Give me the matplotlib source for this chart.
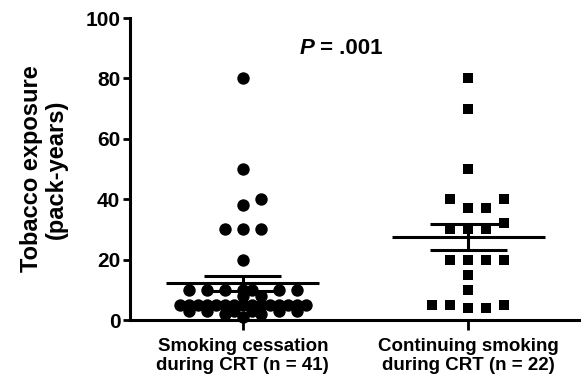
import numpy as np
import matplotlib
matplotlib.use("Agg")
import matplotlib.pyplot as plt

plt.rcParams['font.family'] = ['Liberation Sans', 'DejaVu Sans']
plt.rcParams['font.weight'] = 'bold'

# data (pack-years)
groups = ["Smoking cessation\nduring CRT (n = 41)",
          "Continuing smoking\nduring CRT (n = 22)"]
cessation = [80, 50, 40, 38, 30, 30, 30, 20,
             10, 10, 10, 10, 10, 10, 10, 8, 8,
             5, 5, 5, 5, 5, 5, 5, 5, 5, 5, 5, 5, 5, 5, 5,
             3, 3, 3, 3, 3, 3, 2, 2, 1]
continuing = [80, 70, 50, 40, 40, 37, 37, 32, 30, 30, 30,
              20, 20, 20, 20, 15, 10, 5, 5, 5, 4, 4]
yticks = [0, 20, 40, 60, 80, 100]


def swarm(values, xscale, yscale, step=9.0, half=63.0, rx=17.0, ry=11.0):
    # Prism-like spread in pixel space: nearest free slot to the centre,
    # squeezed (overlapping) when the row is full. Returns offsets in data units.
    values = np.asarray(values, dtype=float)
    order = np.argsort(values, kind="stable")
    n = int(half // step)
    slots = [0.0]
    for k in range(1, n + 1):
        slots += [k * step, -k * step]
    placed = []
    offs = np.zeros(len(values))
    for i in order:
        y = values[i] * yscale
        best, best_d = None, -1.0
        for x in slots:
            if placed:
                d = min(np.hypot((x - px) / rx, (y - py) / ry) for px, py in placed)
            else:
                d = 99.0
            if d >= 1.0:
                best = x
                break
            if d > best_d:
                best, best_d = x, d
        placed.append((best, y))
        offs[i] = best / xscale
    return offs


fig = plt.figure(figsize=(5.81, 3.78), dpi=100)
ax = fig.add_axes([130 / 581, 58 / 378, 451 / 581, 302 / 378])
ax.set_xlim(-0.5, 1.5)
ax.set_ylim(0, 100)

bb = ax.get_window_extent()
xscale = bb.width / 2.0     # px per x unit
yscale = bb.height / 100.0  # px per y unit

for k, (vals, mk, sz) in enumerate([(cessation, 'o', 80), (continuing, 's', 62)]):
    vals = np.array(vals, dtype=float)
    off = swarm(vals, xscale, yscale)
    ax.scatter(k + off, vals, marker=mk, s=sz, color='black', linewidths=0, zorder=2, clip_on=False)
    m = vals.mean()
    sem = vals.std(ddof=1) / np.sqrt(len(vals))
    ax.hlines(m, k - 0.34, k + 0.34, color='black', lw=2.2, zorder=3)
    ax.hlines([m - sem, m + sem], k - 0.17, k + 0.17, color='black', lw=2.2, zorder=3)
    ax.vlines(k, m - sem, m + sem, color='black', lw=2.2, zorder=3)

ax.text(0.316, 90, "P", ha='right', va='center', fontsize=16, fontstyle='italic', fontweight='bold')
ax.text(0.316, 90, " = .001", ha='left', va='center', fontsize=16, fontweight='bold')

ax.set_xticks([0, 1])
ax.set_xticklabels(groups, fontsize=13.5, fontweight='bold', linespacing=1.15)
ax.set_yticks(yticks)
ax.tick_params(axis='y', labelsize=15, width=2, length=5, pad=2)
ax.tick_params(axis='x', width=2, length=7, pad=6)
ax.set_ylabel("Tobacco exposure\n(pack-years)", fontsize=17, fontweight='bold', linespacing=1.15)
ax.yaxis.set_label_coords(-0.137, 0.5)

for s in ['top', 'right']:
    ax.spines[s].set_visible(False)
for s in ['left', 'bottom']:
    ax.spines[s].set_linewidth(2.2)

fig.savefig("out.png", dpi=100)
